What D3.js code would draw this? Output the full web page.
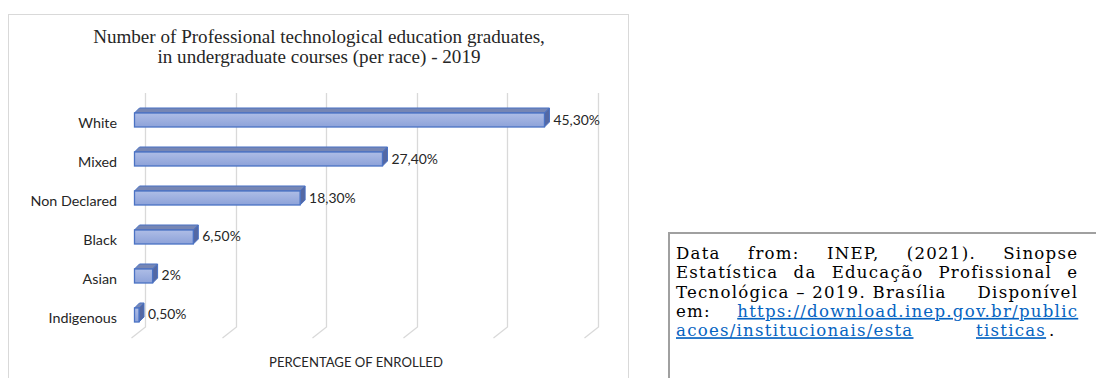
<!DOCTYPE html>
<html>
<head>
<meta charset="utf-8">
<script src="https://cdn.jsdelivr.net/npm/d3@7"></script>
<style>
  html, body { margin: 0; padding: 0; background: #fff; }
  svg { display: block; }
</style>
</head>
<body>
<div id="vis"></div>
<script>
// data
var categories = ["White", "Mixed", "Non Declared", "Black", "Asian", "Indigenous"];
var values = [45.3, 27.4, 18.3, 6.5, 2, 0.5];
var valueLabels = ["45,30%", "27,40%", "18,30%", "6,50%", "2%", "0,50%"];
var gridTicks = [0, 10, 20, 30, 40, 50];

var titleLines = [
  "Number of Professional technological education graduates,",
  "in undergraduate courses (per race) - 2019"
];
var axisTitle = "PERCENTAGE OF ENROLLED";

// source note, one array per printed line
var noteLines = [
  [{t: "Data"}, {t: "from:"}, {t: "INEP,"}, {t: "(2021)."}, {t: "Sinopse"}],
  [{t: "Estatística"}, {t: "da"}, {t: "Educação"}, {t: "Profissional"}, {t: "e"}],
  [{t: "Tecnológica – 2019. Brasília"}, {t: "Disponível"}],
  [{t: "em:"}, {t: "https://download.inep.gov.br/public", link: true}]
];

var width = 1096, height = 378;
var sans = "Lato, 'Open Sans', sans-serif";

var svg = d3.select("#vis").append("svg")
  .attr("width", width)
  .attr("height", height);

// chart frame
svg.append("rect")
  .attr("x", 8.5).attr("y", 14.5)
  .attr("width", 620).attr("height", 420)
  .attr("fill", "#fff")
  .attr("stroke", "#d9d9d9");

// title, sized so the first line spans the same width as the original
var title = svg.append("g")
  .style("font-family", "'Liberation Serif', serif")
  .attr("fill", "#262626");
title.selectAll("text")
  .data(titleLines)
  .enter().append("text")
  .attr("x", 319)
  .attr("y", function(d, i) { return 43 + i * 20; })
  .attr("text-anchor", "middle")
  .style("font-size", "16px")
  .text(function(d) { return d; });
var tw = title.select("text").node().getComputedTextLength();
title.selectAll("text").style("font-size", (16 * 452 / tw) + "px");

var x = d3.scaleLinear().domain([0, 50]).range([134.5, 587]);
var y = d3.scaleBand().domain(categories)
  .range([93.5, 341.5])
  .paddingInner(0.641)
  .paddingOuter(0.5);

var depthX = 5, depthY = -5;
var backX = 10.5;
var gridTop = 93, gridBottom = 327, floorDrop = 11, floorDx = -14;

// back wall gridlines + floor slant
var grid = svg.append("g");
gridTicks.forEach(function(t) {
  var gx = Math.round(x(t) + backX) + 0.5;
  grid.append("path")
    .attr("d", "M" + gx + "," + gridTop + "V" + gridBottom +
      "L" + (gx + floorDx) + "," + (gridBottom + floorDrop))
    .attr("fill", "none")
    .attr("stroke", "#d9d9d9")
    .attr("stroke-width", 1.3);
});

// gradient for bar fronts
var defs = svg.append("defs");
var grad = defs.append("linearGradient")
  .attr("id", "barGrad")
  .attr("x1", 0).attr("y1", 0).attr("x2", 0).attr("y2", 1);
grad.append("stop").attr("offset", "0%").attr("stop-color", "#aebde6");
grad.append("stop").attr("offset", "100%").attr("stop-color", "#8da2d9");

var rows = categories.map(function(c, i) {
  return {cat: c, v: values[i], lab: valueLabels[i]};
});

var bars = svg.append("g").selectAll("g")
  .data(rows)
  .enter().append("g");

bars.each(function(d) {
  var g = d3.select(this);
  var x0 = x(0), x1 = x(d.v);
  var y0 = y(d.cat), h = y.bandwidth();
  // top face
  g.append("path")
    .attr("d", "M" + x0 + "," + y0 + "L" + x1 + "," + y0 +
      "L" + (x1 + depthX) + "," + (y0 + depthY) +
      "L" + (x0 + depthX) + "," + (y0 + depthY) + "Z")
    .attr("fill", "#7686b4")
    .attr("stroke", "#4a72c4")
    .attr("stroke-width", 1)
    .attr("stroke-linejoin", "round");
  // side face
  g.append("path")
    .attr("d", "M" + x1 + "," + y0 + "L" + (x1 + depthX) + "," + (y0 + depthY) +
      "L" + (x1 + depthX) + "," + (y0 + h + depthY) +
      "L" + x1 + "," + (y0 + h) + "Z")
    .attr("fill", "#5468a3")
    .attr("stroke", "#4a72c4")
    .attr("stroke-width", 1)
    .attr("stroke-linejoin", "round");
  // front face
  g.append("rect")
    .attr("x", x0).attr("y", y0)
    .attr("width", x1 - x0).attr("height", h)
    .attr("fill", "url(#barGrad)")
    .attr("stroke", "#4a72c4")
    .attr("stroke-width", 1.3);
  // value label
  g.append("text")
    .attr("x", x1 + depthX + 4)
    .attr("y", y0 + h / 2 + 4.5)
    .style("font-family", sans)
    .style("font-size", "13.9px")
    .attr("fill", "#262626")
    .text(d.lab);
});

// category labels
svg.append("g").selectAll("text")
  .data(categories)
  .enter().append("text")
  .attr("x", 117)
  .attr("y", function(d) { return y(d) + y.bandwidth() / 2 + 8; })
  .attr("text-anchor", "end")
  .style("font-family", sans)
  .style("font-size", "14.3px")
  .attr("fill", "#262626")
  .text(function(d) { return d; });

// axis title
svg.append("text")
  .attr("x", 356)
  .attr("y", 367)
  .attr("text-anchor", "middle")
  .style("font-family", sans)
  .style("font-size", "13.1px")
  .attr("fill", "#262626")
  .text(axisTitle);

// source note box
svg.append("rect")
  .attr("x", 669).attr("y", 233)
  .attr("width", 440).attr("height", 160)
  .attr("fill", "#fff")
  .attr("stroke", "#a0a0a0")
  .attr("stroke-width", 2);

var noteLeft = 676, noteRight = 1077, noteTop = 259, noteStep = 19.3;
var note = svg.append("g")
  .style("font-family", "'DejaVu Serif', serif")
  .style("font-size", "16.6px");

function addWord(w, xx, yy) {
  return note.append("text")
    .attr("x", xx).attr("y", yy)
    .attr("fill", w.link ? "#0563c1" : "#000")
    .style("text-decoration", w.link ? "underline" : null)
    .text(w.t);
}

// widen the letters a little so the long link spans as in the original
var urlText = "https://download.inep.gov.br/public";
var probe = note.append("text").text(urlText);
var spacing = Math.max(0, (341 - probe.node().getComputedTextLength()) / urlText.length);
probe.remove();
note.style("letter-spacing", spacing + "px");

// justified lines
noteLines.forEach(function(line, i) {
  var yy = noteTop + i * noteStep;
  var nodes = line.map(function(w) { return addWord(w, 0, yy); });
  var widths = nodes.map(function(n) { return n.node().getComputedTextLength(); });
  var total = d3.sum(widths);
  var gap = line.length > 1 ? (noteRight + spacing - noteLeft - total) / (line.length - 1) : 0;
  var cx = noteLeft;
  nodes.forEach(function(n, j) {
    n.attr("x", cx);
    cx += widths[j] + gap;
  });
});

// last line (left aligned, with the odd gap of the original)
var lastY = noteTop + 4 * noteStep;
addWord({t: "acoes/institucionais/esta", link: true}, noteLeft, lastY);
var tis = addWord({t: "tisticas", link: true}, noteLeft + 300, lastY);
addWord({t: "."}, noteLeft + 300 + tis.node().getComputedTextLength() + 3, lastY);
</script>
</body>
</html>
